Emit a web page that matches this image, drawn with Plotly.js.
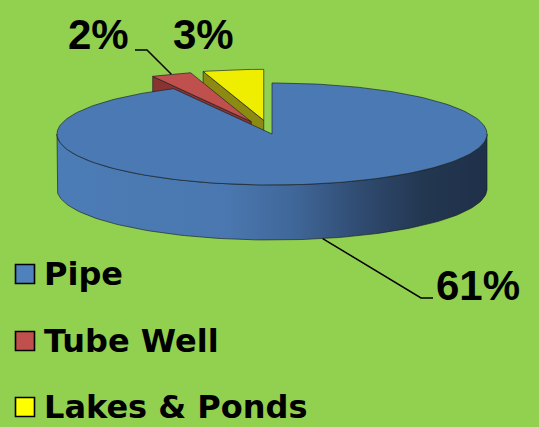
<!DOCTYPE html>
<html><head><meta charset="utf-8">
<script src="https://cdn.plot.ly/plotly-3.0.1.min.js"></script>
<style>html,body{margin:0;padding:0;background:#92d050;}#chart{width:539px;height:427px;}</style>
</head><body><div id="chart"></div>
<script>
// ---- data ----
const categories = ['Pipe', 'Tube Well', 'Lakes & Ponds'];
const values = [61, 2, 3];
const pctLabels = ['61%', '2%', '3%'];

// ---- style ----
const topColors = ['#4a79b3', '#c0504d', '#efed00'];
const cutColors = ['#2c4a72', '#8a3432', '#8c8a12'];
const legendColors = ['#4f81bd', '#c0504d', '#ffff00'];
const explode = [0, 0.26, 0.27];
const cx = 272, cy = 134, a = 215, b = 51, depth = 55;
const edge = 'rgba(25,30,40,0.65)';

const total = values.reduce((s, v) => s + v, 0);
let cum = 0;
const slices = values.map((v, i) => {
  const s = cum / total * 360; cum += v; const e = cum / total * 360;
  return {i, s, e, m: (s + e) / 2};
});
function offOf(sl) {
  const d = explode[sl.i], r = sl.m * Math.PI / 180;
  return [d * a * Math.sin(r), -d * b * Math.cos(r)];
}
function P(th, r, o, dz) {
  const t = th * Math.PI / 180;
  return [cx + a * r * Math.sin(t) + o[0], cy - b * r * Math.cos(t) + o[1] + (dz || 0)];
}
function arc(s, e, o, dz) {
  const N = Math.max(4, Math.ceil(Math.abs(e - s) / 1.5));
  const pts = [];
  for (let k = 0; k <= N; k++) pts.push(P(s + (e - s) * k / N, 1, o, dz));
  return pts;
}
function poly(pts, fill, extra) {
  const t = {
    type: 'scatter', mode: 'lines', fill: 'toself', fillcolor: fill,
    x: pts.map(p => p[0]), y: pts.map(p => p[1]),
    line: {color: edge, width: 1}, hoverinfo: 'skip', showlegend: false
  };
  return Object.assign(t, extra || {});
}

const traces = [];
// back (exploded) slices first, farthest first
const order = slices.slice(1).sort((p, q) => Math.cos(q.m * Math.PI / 180) - Math.cos(p.m * Math.PI / 180));
order.forEach(sl => {
  const o = offOf(sl);
  const c = P(0, 0, o), c2 = P(0, 0, o, depth);
  const p1 = P(sl.s, 1, o), p1b = P(sl.s, 1, o, depth);
  traces.push(poly([c, p1, p1b, c2, c], cutColors[sl.i]));
  traces.push(poly([c].concat(arc(sl.s, sl.e, o)).concat([c]), topColors[sl.i]));
});
// main slice side wall (front half) and top
const main = slices[0];
const o0 = offOf(main);
const vs = Math.max(main.s, 90), ve = Math.min(main.e, 270);
const side = arc(vs, ve, o0).concat(arc(vs, ve, o0, depth).reverse());
side.push(side[0]);
traces.push(poly(side, '#4a79b3', {
  fillgradient: {type: 'horizontal', colorscale: [[0, '#4c7cb6'], [0.4, '#4a77af'], [0.55, '#406799'], [0.7, '#304c72'], [0.85, '#233751'], [1, '#1f3049']]}
}));
const c0 = P(0, 0, o0);
traces.push(poly([c0].concat(arc(main.s, main.e, o0)).concat([c0]), topColors[0]));

// leader lines computed from slice geometry
const redAnchor = P(slices[1].m, 1, offOf(slices[1]));
traces.push({type: 'scatter', mode: 'lines', x: [redAnchor[0], 147, 135], y: [redAnchor[1], 50, 50],
  line: {color: '#000', width: 1.5}, hoverinfo: 'skip', showlegend: false});
const blueAnchor = P(main.m, 1, o0, depth);
traces.push({type: 'scatter', mode: 'lines', x: [blueAnchor[0], 421, 433], y: [blueAnchor[1], 298, 298],
  line: {color: '#000', width: 1.5}, hoverinfo: 'skip', showlegend: false});

// legend markers
const legY = [274, 341, 407];
traces.push({type: 'scatter', mode: 'markers', x: categories.map(() => 25), y: legY,
  marker: {symbol: 'square', size: 19, color: legendColors, line: {color: '#000', width: 1.6}},
  hoverinfo: 'skip', showlegend: false});

const pctFont = {family: 'Liberation Sans, Arial, sans-serif', size: 42, color: '#000', weight: 700};
const annotations = [
  {x: 98, y: 34, text: pctLabels[1], font: pctFont},
  {x: 203, y: 34, text: pctLabels[2], font: pctFont},
  {x: 478, y: 285, text: pctLabels[0], font: pctFont}
].map(o => Object.assign({xref: 'x', yref: 'y', showarrow: false, xanchor: 'center', yanchor: 'middle'}, o));
categories.forEach((c, i) => annotations.push({
  x: 42, y: legY[i], xref: 'x', yref: 'y', text: c, showarrow: false, xanchor: 'left', yanchor: 'middle',
  font: {family: 'DejaVu Sans, sans-serif', size: 32, color: '#000', weight: 700}
}));

const layout = {
  width: 539, height: 427, margin: {l: 0, r: 0, t: 0, b: 0},
  paper_bgcolor: '#92d050', plot_bgcolor: '#92d050',
  xaxis: {range: [0, 539], visible: false, fixedrange: true},
  yaxis: {range: [427, 0], visible: false, fixedrange: true},
  showlegend: false, annotations
};
Plotly.newPlot('chart', traces, layout, {staticPlot: true, displayModeBar: false});
</script></body></html>
